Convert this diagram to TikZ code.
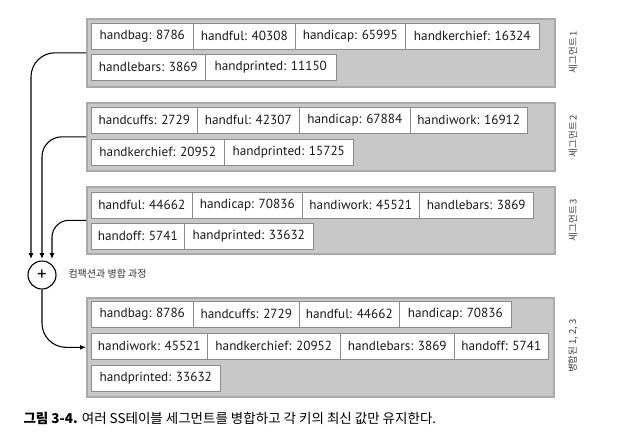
\documentclass[tikz,border=0pt]{standalone}
\usepackage{fontspec}
\setmainfont{PT Sans}
\newfontfamily\kr{Noto Sans CJK KR}
\usetikzlibrary{arrows.meta}
\definecolor{seggray}{HTML}{C8C8C8}
\definecolor{segedge}{HTML}{A9A9A9}
\definecolor{celledge}{HTML}{8A8A8A}
\tikzset{
  segbox/.style={draw=segedge, line width=1.6pt, fill=seggray, inner sep=0pt, anchor=north west},
  cell/.style={draw=celledge, line width=0.6pt, fill=white, inner sep=0pt, minimum height=26pt, anchor=north west, font=\fontsize{13.2}{15}\selectfont, text=black!90},
  side/.style={rotate=90, font=\kr\fontsize{9.5}{11}\selectfont, text=black!75},
  conn/.style={line width=1.1pt, -{Latex[length=6pt,width=5pt]}},
}
\begin{document}
\begin{tikzpicture}[x=1pt,y=-1pt]
\useasboundingbox (0,0) rectangle (620,442);
% segment 1
\node[segbox, minimum width=468pt, minimum height=68pt] (seg1) at (86,18) {};
\node[cell, minimum width=102pt] (a1) at (91,23) {handbag: 8786};
\node[cell, minimum width=102pt] (a2) at (193,23) {handful: 40308};
\node[cell, minimum width=110pt] (a3) at (295,23) {handicap: 65995};
\node[cell, minimum width=134pt] (a4) at (405,23) {handkerchief: 16324};
\node[cell, minimum width=114pt] (a5) at (91,54) {handlebars: 3869};
\node[cell, minimum width=131pt] (a6) at (205,54) {handprinted: 11150};
\node[side] (l1) at (573,52) {세그먼트 1};
% segment 2
\node[segbox, minimum width=468pt, minimum height=68pt] (seg2) at (86,102) {};
\node[cell, minimum width=106pt] (b1) at (91,107) {handcuffs: 2729};
\node[cell, minimum width=102pt] (b2) at (197,107) {handful: 42307};
\node[cell, minimum width=111pt] (b3) at (299,107) {handicap: 67884};
\node[cell, minimum width=117pt] (b4) at (410,107) {handiwork: 16912};
\node[cell, minimum width=133pt] (b5) at (91,139) {handkerchief: 20952};
\node[cell, minimum width=129pt] (b6) at (224,139) {handprinted: 15725};
\node[side] (l2) at (573,136) {세그먼트 2};
% segment 3
\node[segbox, minimum width=468pt, minimum height=67pt] (seg3) at (86,186) {};
\node[cell, minimum width=101pt] (c1) at (91,192) {handful: 44662};
\node[cell, minimum width=110pt] (c2) at (192,192) {handicap: 70836};
\node[cell, minimum width=117pt] (c3) at (302,192) {handiwork: 45521};
\node[cell, minimum width=114pt] (c4) at (419,192) {handlebars: 3869};
\node[cell, minimum width=93pt] (c5) at (91,223) {handoff: 5741};
\node[cell, minimum width=129pt] (c6) at (184,223) {handprinted: 33632};
\node[side] (l3) at (573,220) {세그먼트 3};
% merge
\node[draw, circle, line width=1.1pt, minimum size=28pt, inner sep=0pt, font=\fontsize{19}{19}\selectfont] (plus) at (42,275) {+};
\node[anchor=west, font=\kr\fontsize{10}{12}\selectfont, text=black!80] (ml) at (65,274) {컴팩션과 병합 과정};
% merged segment
\node[segbox, minimum width=467pt, minimum height=99pt] (seg4) at (86,297) {};
\node[cell, minimum width=102pt] (d1) at (91,301) {handbag: 8786};
\node[cell, minimum width=106pt] (d2) at (193,301) {handcuffs: 2729};
\node[cell, minimum width=100pt] (d3) at (299,301) {handful: 44662};
\node[cell, minimum width=112pt] (d4) at (399,301) {handicap: 70836};
\node[cell, minimum width=116pt] (d5) at (91,333) {handiwork: 45521};
\node[cell, minimum width=133pt] (d6) at (207,333) {handkerchief: 20952};
\node[cell, minimum width=114pt] (d7) at (340,333) {handlebars: 3869};
\node[cell, minimum width=94pt] (d8) at (454,333) {handoff: 5741};
\node[cell, minimum width=129pt] (d9) at (91,365) {handprinted: 33632};
\node[side] (l4) at (573,346) {병합된 1, 2, 3};
% connectors
\coordinate (t1) at (31,259);
\coordinate (t2) at (42,259);
\coordinate (t3) at (52,259);
\draw[conn, rounded corners=24pt] (seg1.west) -| (t1);
\draw[conn, rounded corners=20pt] (seg2.west) -| (t2);
\draw[conn, rounded corners=17pt] (seg3.west) -| (t3);
\draw[conn, rounded corners=24pt] (plus.south) |- (seg4.west);
% caption
\node[anchor=west, font=\kr\fontsize{13.5}{15}\selectfont] (cap) at (20,418) {\textbf{그림 3-4.} 여러 SS테이블 세그먼트를 병합하고 각 키의 최신 값만 유지한다.};
\end{tikzpicture}
\end{document}
